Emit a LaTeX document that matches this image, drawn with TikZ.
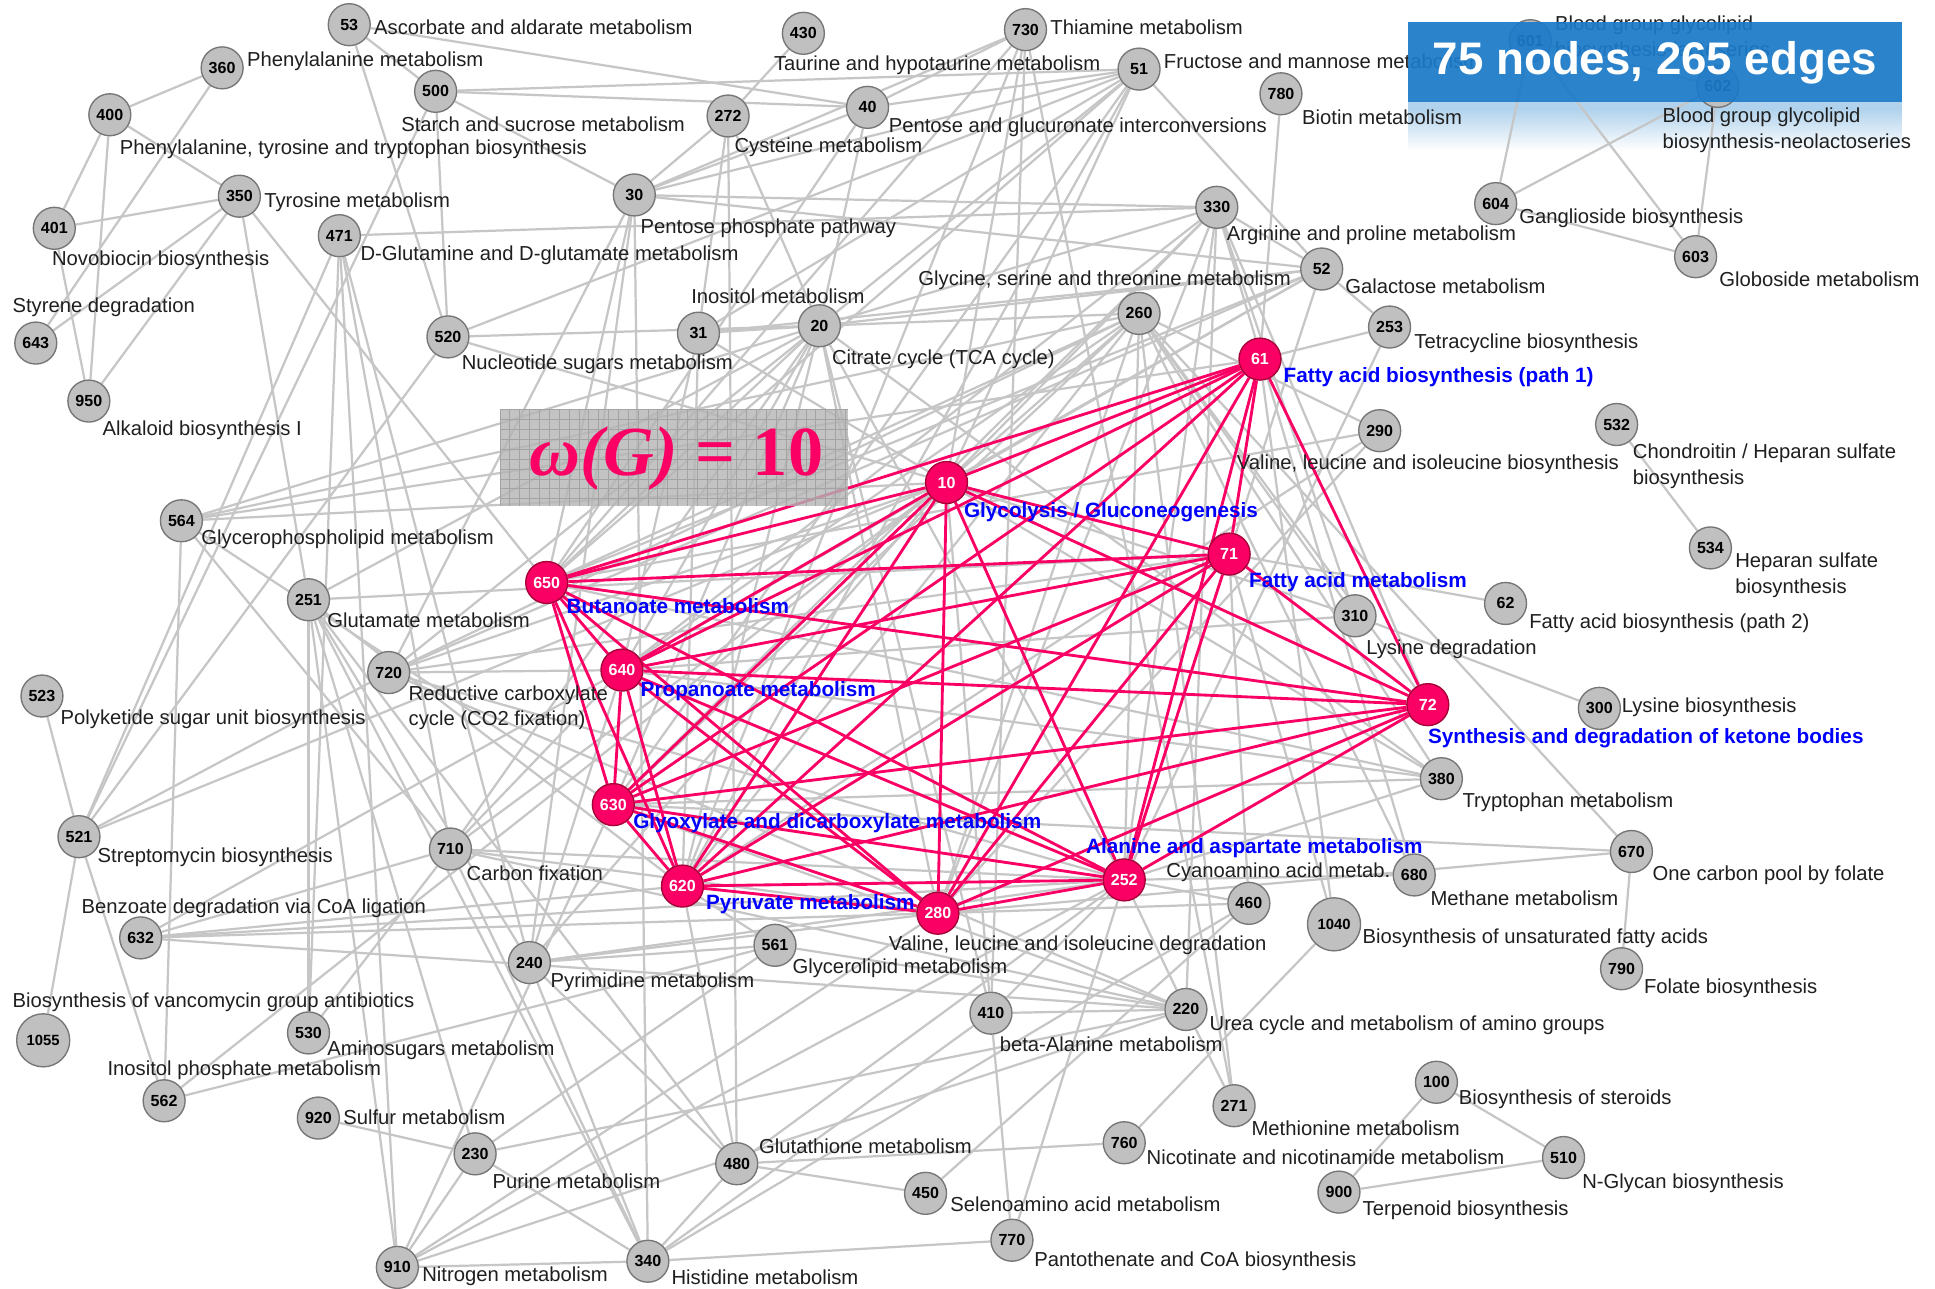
\documentclass[tikz,border=0pt]{standalone}
\usepackage{fontspec}
\setmainfont{Liberation Sans}
\newfontfamily\omegafont{Liberation Serif}
\pgfdeclarelayer{bglayer}
\pgfdeclarelayer{edgelayer}
\pgfsetlayers{bglayer,edgelayer,main}
\definecolor{edgegray}{RGB}{198,198,198}
\definecolor{nodegray}{RGB}{192,192,192}
\definecolor{nodeborder}{RGB}{118,118,118}
\definecolor{cliquered}{RGB}{250,0,100}
\definecolor{cliqueborder}{RGB}{165,0,55}
\definecolor{labelblue}{RGB}{0,0,255}
\definecolor{titleblue}{RGB}{26,122,200}
\definecolor{reflectblue}{RGB}{176,210,236}
\begin{document}
\begin{tikzpicture}[x=1pt,y=-1pt,
  gnode/.style={circle,draw=nodeborder,fill=nodegray,line width=1.1pt,minimum size=34pt,inner sep=0pt,font=\fontsize{13}{13}\selectfont\bfseries},
  bignode/.style={gnode,minimum size=43pt,font=\fontsize{12}{12}\selectfont\bfseries},
  rnode/.style={gnode,draw=cliqueborder,fill=cliquered,text=white},
  lbl/.style={anchor=west,inner sep=0pt,align=left,text=black!88,font=\fontsize{16.4}{21}\selectfont},
  blbl/.style={lbl,text=labelblue,font=\fontsize{16.8}{21}\selectfont\bfseries},
  gedge/.style={draw=edgegray,line width=1.8pt},
  redge/.style={draw=cliquered,line width=2.3pt}]

\useasboundingbox (0,0) rectangle (1568,1044);
\begin{pgfonlayer}{bglayer}
\fill[white] (0,0) rectangle (1568,1044);
% soft reflection under the size banner
\fill[reflectblue] (1141,83) rectangle (1541,88);
\shade[top color=reflectblue,bottom color=white] (1141,88) rectangle (1541,122);
\end{pgfonlayer}

% ---------- pathway nodes ----------
\foreach \id/\px/\py in {53/283/20,360/180/55,400/89/93,401/44/185,350/194/159,643/29/278,950/72/325,
  500/353/74,430/651/27,272/590/94,40/703/87,30/514/158,471/275/191,520/363/273,31/566/270,20/664/264,
  730/831/24,51/923/56,780/1038/76,330/986/168,52/1071/218,260/923/254,253/1126/265,290/1118/349,
  601/1240/33,602/1392/70,604/1212/165,603/1374/208,532/1310/344,534/1386/444,
  564/147/422,251/250/486,720/315/545,523/34/564,521/64/678,710/365/688,
  310/1098/499,62/1220/489,300/1296/574,380/1168/631,670/1322/690,680/1146/709,460/1012/732,790/1314/785,
  632/114/760,561/628/766,240/429/780,530/250/837,562/133/892,410/803/821,220/961/818,
  920/258/906,230/385/935,480/597/943,450/750/967,271/1000/896,760/911/926,
  100/1164/877,510/1267/938,900/1085/966,910/322/1027,340/525/1022,770/820/1005}
  \node[gnode] (n\id) at (\px,\py) {\id};
\node[bignode] (n1040) at (1081,749) {1040};
\node[bignode] (n1055) at (35,843) {1055};
\foreach \id/\px/\py in {61/1021/291,10/767/391,650/443/472,640/504/543,71/996/449,
  72/1157/571,630/497/652,620/553/718,280/760/740,252/911/713}
  \node[rnode] (n\id) at (\px,\py) {\id};

% ---------- connections ----------
\begin{pgfonlayer}{edgelayer}
\foreach \a/\b in {
360/400,360/643,400/401,400/950,400/350,401/350,401/950,350/643,350/950,350/251,350/650,
53/500,53/520,53/40,500/520,500/521,500/51,500/40,500/30,430/272,272/480,40/30,40/20,
471/330,471/530,471/910,471/240,471/710,471/521,520/521,520/20,520/10,
521/523,521/1055,521/562,521/10,521/720,
564/562,564/10,564/61,564/20,564/260,564/630,564/710,
251/530,251/230,251/240,251/620,251/910,251/340,251/480,251/71,251/20,
30/720,30/650,30/240,30/340,30/51,30/52,30/330,
562/561,562/10,530/710,920/230,230/910,230/340,230/561,230/220,
910/340,910/252,910/220,910/280,910/630,
340/480,340/410,340/770,340/240,340/710,460/340,
480/760,480/252,480/620,480/240,561/220,561/240,561/620,450/460,450/480,
410/220,410/770,410/252,410/10,410/20,410/730,
220/271,220/252,220/330,220/632,220/710,220/720,220/630,
770/252,760/1040,271/260,100/510,100/900,900/510,790/670,
670/260,670/630,670/280,680/252,680/260,680/330,
380/10,380/650,380/640,380/630,380/252,380/20,380/260,
300/310,310/10,310/640,310/260,310/330,
290/260,290/280,290/620,290/650,62/71,253/61,253/252,253/52,780/61,532/534,
601/604,601/603,601/602,602/604,602/603,604/603,
51/52,51/10,51/520,51/40,51/31,51/20,51/630,51/650,51/620,
730/10,730/271,730/620,730/650,730/40,730/30,
330/52,330/20,330/10,330/640,330/630,330/252,330/280,330/72,
52/20,52/31,52/10,52/650,52/640,52/71,52/720,
260/20,260/10,260/650,260/640,260/630,260/620,260/280,260/252,260/72,260/720,
20/650,20/640,20/630,20/620,20/280,20/710,20/720,20/252,20/31,
31/640,31/620,31/10,
632/280,632/252,632/640,632/710,632/620,
710/10,710/640,710/252,710/280,
720/640,720/10,720/252,720/71,
240/10,240/640,240/252,240/280,
1040/71,1040/61,460/252,460/280,460/71,
272/30,272/31,272/20,40/650}
  \draw[gedge] (n\a) -- (n\b);
% the maximum clique
\foreach \a/\b in {
10/61,10/71,10/72,10/252,10/280,10/620,10/630,10/640,10/650,
61/71,61/72,61/252,61/280,61/620,61/630,61/640,61/650,
71/72,71/252,71/280,71/620,71/630,71/640,71/650,
72/252,72/280,72/620,72/630,72/640,72/650,
252/280,252/620,252/630,252/640,252/650,
280/620,280/630,280/640,280/650,
620/630,620/640,620/650,
630/640,630/650,
640/650}
  \draw[redge] (n\a) -- (n\b);
\end{pgfonlayer}

% ---------- pathway names ----------
\node[lbl] (l53) at (303,22) {Ascorbate and aldarate metabolism};
\node[lbl] (l360) at (200,50) {Phenylalanine metabolism};
\node[lbl] (l400) at (97,121) {Phenylalanine, tyrosine and tryptophan biosynthesis};
\node[lbl] (l350) at (214,164) {Tyrosine metabolism};
\node[lbl] (l401) at (42,211) {Novobiocin biosynthesis};
\node[lbl] (l643) at (10,249) {Styrene degradation};
\node[lbl] (l950) at (83,349) {Alkaloid biosynthesis I};
\node[lbl] (l500) at (325,101) {Starch and sucrose metabolism};
\node[lbl] (l430) at (627,53) {Taurine and hypotaurine metabolism};
\node[lbl] (l272) at (595,119) {Cysteine metabolism};
\node[lbl] (l40) at (720,103) {Pentose and glucuronate interconversions};
\node[lbl] (l30) at (519,185) {Pentose phosphate pathway};
\node[lbl] (l471) at (292,207) {D-Glutamine and D-glutamate metabolism};
\node[lbl] (l520) at (374,295) {Nucleotide sugars metabolism};
\node[lbl] (l31) at (560,240) {Inositol metabolism};
\node[lbl] (l20) at (674,291) {Citrate cycle (TCA cycle)};
\node[lbl] (l730) at (851,22) {Thiamine metabolism};
\node[lbl] (l51) at (943,50) {Fructose and mannose metabolism};
\node[lbl] (l780) at (1055,95) {Biotin metabolism};
\node[lbl] (l330) at (994,191) {Arginine and proline metabolism};
\node[lbl] (l52) at (1090,232) {Galactose metabolism};
\node[lbl] (l260) at (744,227) {Glycine, serine and threonine metabolism};
\node[lbl] (l253) at (1146,278) {Tetracycline biosynthesis};
\node[blbl] (l61) at (1040,306) {Fatty acid biosynthesis (path 1)};
\node[lbl] (l290) at (1002,376) {Valine, leucine and isoleucine biosynthesis};
\node[lbl] (l601) at (1260,31) {Blood group glycolipid\\biosynthesis-lactoseries};
\node[lbl] (l602) at (1347,105.5) {Blood group glycolipid\\biosynthesis-neolactoseries};
\node[lbl] (l604) at (1231,177) {Ganglioside biosynthesis};
\node[lbl] (l603) at (1393,226) {Globoside metabolism};
\node[lbl] (l532) at (1323,377.5) {Chondroitin / Heparan sulfate\\biosynthesis};
\node[lbl] (l534) at (1406,466) {Heparan sulfate\\biosynthesis};
\node[lbl] (l564) at (163,437) {Glycerophospholipid metabolism};
\node[lbl] (l251) at (265,503) {Glutamate metabolism};
\node[lbl] (l720) at (331,573.5) {Reductive carboxylate\\cycle (CO2 fixation)};
\node[lbl] (l523) at (49,583) {Polyketide sugar unit biosynthesis};
\node[lbl] (l521) at (79,695) {Streptomycin biosynthesis};
\node[lbl] (l710) at (378,708) {Carbon fixation};
\node[blbl] (l10) at (781,415) {Glycolysis / Gluconeogenesis};
\node[blbl] (l650) at (459,491) {Butanoate metabolism};
\node[blbl] (l640) at (519,560) {Propanoate metabolism};
\node[blbl] (l71) at (1012,472) {Fatty acid metabolism};
\node[lbl] (l310) at (1107,526) {Lysine degradation};
\node[lbl] (l62) at (1239,505) {Fatty acid biosynthesis (path 2)};
\node[blbl] (l72) at (1157,598) {Synthesis and degradation of ketone bodies};
\node[lbl] (l300) at (1314,573) {Lysine biosynthesis};
\node[lbl] (l380) at (1185,650) {Tryptophan metabolism};
\node[lbl] (l670) at (1339,709) {One carbon pool by folate};
\node[lbl] (l680) at (1159,728) {Methane metabolism};
\node[blbl] (l630) at (513,667) {Glyoxylate and dicarboxylate metabolism};
\node[blbl] (l252) at (880,687) {Alanine and aspartate metabolism};
\node[lbl] (l460) at (945,707) {Cyanoamino acid metab.};
\node[lbl] (l280) at (720,766) {Valine, leucine and isoleucine degradation};
\node[blbl] (l620) at (572,733) {Pyruvate metabolism};
\node[lbl] (l1040) at (1104,760) {Biosynthesis of unsaturated fatty acids};
\node[lbl] (l790) at (1332,801) {Folate biosynthesis};
\node[lbl] (l632) at (66,736) {Benzoate degradation via CoA ligation};
\node[lbl] (l561) at (642,785) {Glycerolipid metabolism};
\node[lbl] (l240) at (446,796) {Pyrimidine metabolism};
\node[lbl] (l1055) at (10,812) {Biosynthesis of vancomycin group antibiotics};
\node[lbl] (l530) at (265,851) {Aminosugars metabolism};
\node[lbl] (l562) at (87,867) {Inositol phosphate metabolism};
\node[lbl] (l410) at (810,846) {beta-Alanine metabolism};
\node[lbl] (l220) at (980,831) {Urea cycle and metabolism of amino groups};
\node[lbl] (l920) at (278,905) {Sulfur metabolism};
\node[lbl] (l230) at (399,957) {Purine metabolism};
\node[lbl] (l480) at (615,929) {Glutathione metabolism};
\node[lbl] (l450) at (770,976) {Selenoamino acid metabolism};
\node[lbl] (l271) at (1014,914) {Methionine metabolism};
\node[lbl] (l760) at (929,938) {Nicotinate and nicotinamide metabolism};
\node[lbl] (l100) at (1182,891) {Biosynthesis of steroids};
\node[lbl] (l510) at (1282,959) {N-Glycan biosynthesis};
\node[lbl] (l900) at (1104,981) {Terpenoid biosynthesis};
\node[lbl] (l910) at (342,1034) {Nitrogen metabolism};
\node[lbl] (l340) at (544,1035) {Histidine metabolism};
\node[lbl] (l770) at (838,1022) {Pantothenate and CoA biosynthesis};

% ---------- clique number panel ----------
\fill[gray!58,opacity=0.8] (405,332) rectangle (687,410);
\begin{scope}
  \clip (405,332) rectangle (687,410);
  \foreach \gx in {405,413,...,690} \draw[gray!72,line width=0.45pt] (\gx,332) -- (\gx,410);
  \foreach \gy in {332,340,...,412} \draw[gray!72,line width=0.45pt] (405,\gy) -- (687,\gy);
\end{scope}
\node[text=cliquered,inner sep=0pt,font=\omegafont\bfseries\fontsize{57}{57}\selectfont] (omega) at (548,372) {{\itshape ω(G)} = 10};

% ---------- size banner ----------
\fill[titleblue,opacity=0.93] (1141,18) rectangle (1541,83);
\node[text=white,inner sep=0pt,font=\fontsize{37}{37}\selectfont\bfseries] (title) at (1341,51) {75 nodes, 265 edges};
\end{tikzpicture}
\end{document}
